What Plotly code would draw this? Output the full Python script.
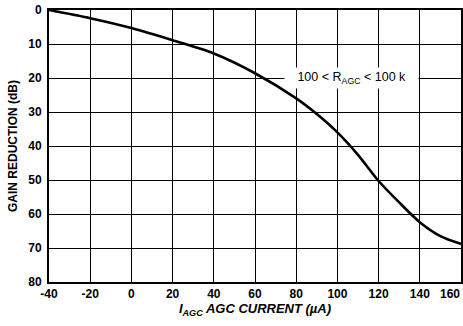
import plotly.graph_objects as go

# Data
agc_current_uA = [-40, -20, 0, 20, 40, 60, 80, 90, 100, 110, 120, 130, 140, 150, 160]
gain_reduction_dB = [0, 2.4, 5.3, 8.9, 12.8, 18.6, 26, 30.6, 36, 42.6, 50.3, 56.6, 62.4, 66.5, 68.8]

x_ticks = [-40, -20, 0, 20, 40, 60, 80, 100, 120, 140, 160]
y_ticks = [0, 10, 20, 30, 40, 50, 60, 70, 80]

font_bold = "Liberation Sans"
INK = "#000000"

# last x tick label is drawn separately (right-aligned to its gridline, as in the reference)
x_ticktext = [f"<b>{v}</b>" for v in x_ticks[:-1]] + [""]

fig = go.Figure()
fig.add_trace(go.Scatter(
    x=agc_current_uA, y=gain_reduction_dB, mode="lines",
    line=dict(color=INK, width=2.6, shape="spline", smoothing=0.8),
    showlegend=False, hoverinfo="skip"))

fig.add_annotation(x=107, y=20, xref="x", yref="y",
                   text="&nbsp;&nbsp;&nbsp;100 &lt; R<sub>AGC</sub> &lt; 100 k&nbsp;&nbsp;&nbsp;",
                   showarrow=False, bgcolor="#ffffff", borderpad=2,
                   font=dict(family=font_bold, size=12.5, color=INK))

fig.add_annotation(x=x_ticks[-1], y=0, xref="x", yref="paper",
                   text=f"<b>{x_ticks[-1]}</b>", showarrow=False,
                   xanchor="right", yanchor="top", yshift=-3, xshift=1,
                   font=dict(family=font_bold, size=12, color=INK))

fig.update_layout(
    width=463, height=326,
    margin=dict(l=49, r=2, t=10, b=44, autoexpand=False),
    paper_bgcolor="#ffffff", plot_bgcolor="#ffffff",
    font=dict(family=font_bold, color=INK),
    xaxis=dict(range=[-40, 160], tickvals=x_ticks, ticktext=x_ticktext,
               showgrid=True, gridcolor=INK, gridwidth=1,
               showline=True, linecolor=INK, linewidth=2, mirror=True,
               ticks="", tickfont=dict(size=12, family=font_bold), zeroline=False,
               ticklabeloverflow="allow",
               title=dict(text="<b><i>I<sub>AGC</sub> AGC CURRENT (µA)</i></b>",
                          font=dict(size=13, family=font_bold), standoff=2)),
    yaxis=dict(range=[80, 0], tickvals=y_ticks, ticktext=[f"<b>{v}</b>" for v in y_ticks],
               showgrid=True, gridcolor=INK, gridwidth=1,
               showline=True, linecolor=INK, linewidth=2, mirror=True,
               ticks="", tickfont=dict(size=12, family=font_bold), zeroline=False,
               ticklabelstandoff=3, ticklabeloverflow="allow",
               title=dict(text="<b>GAIN REDUCTION (dB)</b>",
                          font=dict(size=12, family=font_bold), standoff=8)),
)

fig.write_html("out.html", config={"displayModeBar": False},
               post_script="document.body.style.margin='0';")
